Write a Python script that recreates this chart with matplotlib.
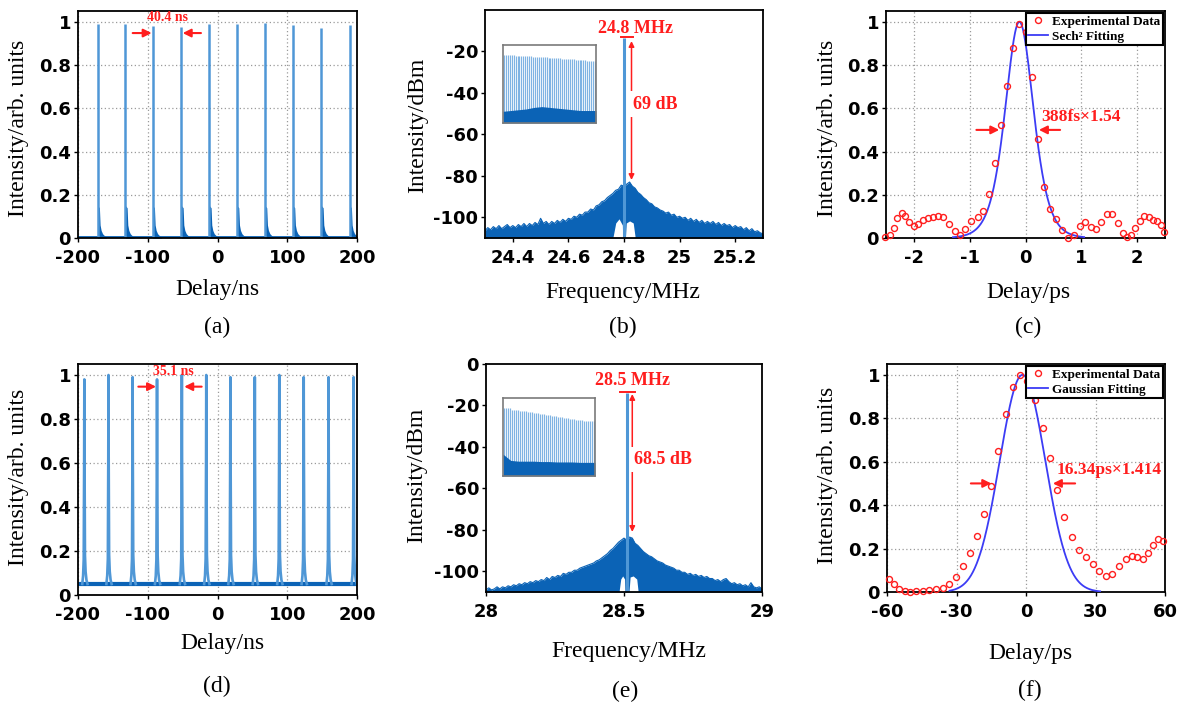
import numpy as np
import matplotlib
matplotlib.use("Agg")
import matplotlib.pyplot as plt
from matplotlib.lines import Line2D

plt.rcParams['axes.unicode_minus'] = False

# ---------------- data ----------------
# (a) pulse train, 40.4 ns spacing
pulse_a_t = [-171.8, -132.1, -92.9, -51.8, -11.7, 28.0, 68.1, 108.2, 148.9, 189.5]
pulse_a_h = [0.99, 0.99, 0.98, 0.975, 0.99, 0.99, 0.995, 0.985, 0.97, 0.985]
tail_a_dt = [0.0, 2.5, 3.5, 5.0, 7.0, 10.0, 13.0]
tail_a_amp = [0.15, 0.14, 0.06, 0.035, 0.02, 0.01, 0.0]

# (d) pulse train, 35.1 ns spacing
pulse_d_t = [-190.9, -156.3, -121.7, -86.7, -51.1, -16.1, 18.5, 53.5, 88.6, 123.6, 159.2, 195.2]
pulse_d_h = [0.98, 1.0, 0.99, 0.98, 1.0, 1.0, 0.99, 0.99, 1.0, 0.99, 0.99, 0.99]
baseline_d = 0.05
profile_d_dt = [-3.0, -1.8, -0.9, -0.3, 0.0, 0.3, 0.9, 1.8, 3.0, 4.5]
profile_d_rel = [0.0, 0.04, 0.12, 0.6, 1.0, 0.6, 0.14, 0.06, 0.02, 0.0]

# (b) RF spectrum around 24.8 MHz (0.01 MHz steps from 24.30)
spec_b_f0, spec_b_df = 24.30, 0.01
spec_b_db = [-106.5, -105.0, -106.0, -104.5, -105.5, -104.0, -105.5, -104.5, -103.5, -105.0,
             -104.0, -105.0, -103.5, -104.5, -103.0, -104.5, -103.0, -104.0, -102.5, -103.5,
             -100.5, -103.0, -102.0, -103.5, -102.0, -103.0, -101.5, -102.5, -101.0, -102.0,
             -100.5, -101.0, -99.5, -100.0, -98.5, -99.0, -97.5, -97.5, -96.0, -96.5,
             -94.5, -94.0, -92.5, -92.0, -90.5, -89.5, -88.5, -87.0, -86.5, -84.5,
             -85.0, -84.0, -83.0, -85.0, -86.0, -88.0, -89.0, -90.5, -91.5, -93.0,
             -93.5, -95.0, -95.5, -96.5, -97.0, -98.0, -97.5, -99.0, -98.5, -100.0,
             -99.5, -100.5, -100.0, -101.5, -100.5, -102.0, -101.0, -102.5, -101.5, -103.0,
             -102.0, -103.0, -102.0, -103.5, -102.5, -104.0, -103.0, -104.0, -103.5, -105.0,
             -104.0, -105.0, -104.5, -106.0, -105.0, -106.5, -105.5, -107.0, -106.5, -107.5, -108.0]
peak_b_f = 24.8
peak_b_db = -13.6
notch_b_left_f = [24.762, 24.772, 24.784, 24.796, 24.797]
notch_b_left_db = [-110, -103, -101, -104, -110]
notch_b_right_f = [24.807, 24.81, 24.822, 24.835, 24.842]
notch_b_right_db = [-110, -103, -102, -103, -110]

# (e) RF spectrum around 28.5 MHz (0.01 MHz steps from 28.00)
spec_e_f0, spec_e_df = 28.00, 0.01
spec_e_db = [-109.0, -108.0, -109.0, -108.5, -107.5, -108.5, -107.5, -108.0, -107.0, -107.5,
             -106.5, -107.0, -106.0, -106.5, -105.5, -106.0, -105.0, -105.5, -104.5, -105.0,
             -104.0, -104.5, -103.0, -104.0, -102.5, -103.0, -102.0, -102.5, -101.0, -101.5,
             -100.5, -100.5, -99.5, -99.5, -98.5, -98.0, -97.5, -97.0, -96.5, -96.0,
             -95.0, -94.5, -93.5, -92.5, -91.5, -90.0, -89.0, -87.5, -86.0, -85.0,
             -84.0, -85.0, -83.5, -84.0, -86.5, -87.5, -89.0, -90.5, -91.5, -92.5,
             -93.0, -94.0, -95.0, -95.5, -96.0, -97.0, -97.5, -98.0, -98.5, -99.5,
             -99.5, -100.5, -100.5, -101.5, -101.0, -102.0, -101.5, -102.5, -102.0, -103.0,
             -102.5, -103.5, -103.5, -104.5, -104.0, -105.0, -104.0, -103.5, -105.0, -106.0,
             -105.5, -106.5, -106.0, -107.0, -106.5, -107.5, -105.5, -107.5, -108.0, -107.5, -108.5]
peak_e_f = 28.512
peak_e_db = -14.1
notch_e_left_f = [28.484, 28.49, 28.497, 28.504, 28.505]
notch_e_left_db = [-110, -104, -102.5, -104, -110]
notch_e_right_f = [28.52, 28.524, 28.535, 28.548, 28.553]
notch_e_right_db = [-110, -103, -102.5, -104, -110]

# insets (comb of harmonics), normalised inset units
inset_b_top = [0.872, 0.870, 0.871, 0.868, 0.866, 0.867, 0.864, 0.862, 0.862, 0.860,
               0.858, 0.858, 0.855, 0.854, 0.853, 0.851, 0.849, 0.849, 0.846, 0.845,
               0.844, 0.842, 0.840, 0.839, 0.837, 0.835, 0.834, 0.832, 0.830, 0.829,
               0.826, 0.825, 0.823, 0.822, 0.819, 0.817, 0.816, 0.813, 0.811, 0.810,
               0.806, 0.804, 0.802, 0.798, 0.796, 0.794, 0.793, 0.792]
inset_b_floor = [0.15, 0.16, 0.17, 0.18, 0.20, 0.21, 0.20, 0.19, 0.18, 0.17, 0.16, 0.16, 0.16]
inset_e_top = [0.870, 0.870, 0.868, 0.866, 0.850, 0.848, 0.845, 0.842, 0.838, 0.835,
               0.831, 0.828, 0.824, 0.820, 0.817, 0.812, 0.808, 0.804, 0.800, 0.796,
               0.791, 0.787, 0.782, 0.778, 0.774, 0.770, 0.765, 0.761, 0.757, 0.752,
               0.748, 0.744, 0.740, 0.736, 0.732, 0.728, 0.724, 0.720, 0.716, 0.712,
               0.708, 0.705, 0.702, 0.701, 0.700, 0.700]
inset_e_floor = [0.28, 0.20, 0.19, 0.19, 0.19, 0.185, 0.185, 0.18, 0.18, 0.18, 0.175, 0.175, 0.175]

# (c) autocorrelation, sech^2 fit
ac_c_t = [-2.51, -2.42, -2.36, -2.30, -2.22, -2.16, -2.08, -2.00, -1.93, -1.84, -1.75, -1.66,
          -1.57, -1.48, -1.37, -1.27, -1.18, -1.08, -0.98, -0.86, -0.76, -0.65, -0.54, -0.44,
          -0.33, -0.22, -0.11, 0.01, 0.12, 0.23, 0.33, 0.44, 0.55, 0.66, 0.77, 0.87, 0.98,
          1.07, 1.18, 1.27, 1.36, 1.46, 1.55, 1.65, 1.74, 1.82, 1.89, 1.97, 2.05, 2.13,
          2.21, 2.29, 2.35, 2.42, 2.49]
ac_c_y = [0.005, 0.012, 0.046, 0.092, 0.115, 0.10, 0.072, 0.057, 0.065, 0.082, 0.092, 0.097,
          0.103, 0.097, 0.066, 0.031, 0.015, 0.042, 0.077, 0.095, 0.123, 0.203, 0.346, 0.521,
          0.703, 0.877, 0.992, 0.954, 0.743, 0.457, 0.235, 0.134, 0.088, 0.038, 0.0, 0.015,
          0.057, 0.074, 0.049, 0.042, 0.074, 0.112, 0.112, 0.069, 0.023, 0.005, 0.015, 0.046,
          0.08, 0.10, 0.097, 0.082, 0.08, 0.062, 0.026]
fit_c_center = -0.11
fit_c_fwhm = 0.388 * 1.54
fit_c_range = (-1.3, 1.05)

# (f) autocorrelation, Gaussian fit
ac_f_t = [-59.3, -56.8, -54.7, -52.4, -50.0, -47.4, -44.6, -41.8, -38.7, -36.0, -33.1, -30.3,
          -27.3, -24.1, -21.2, -18.0, -14.9, -11.9, -8.7, -5.7, -2.5, 0.6, 3.9, 7.2, 10.4,
          13.4, 16.6, 19.8, 22.8, 25.8, 28.8, 31.7, 34.6, 37.3, 40.2, 43.0, 45.6, 48.1, 50.6,
          52.8, 54.9, 57.1, 59.3]
ac_f_y = [0.062, 0.038, 0.015, 0.005, 0.002, 0.003, 0.005, 0.008, 0.012, 0.02, 0.038, 0.069,
          0.118, 0.18, 0.257, 0.357, 0.488, 0.651, 0.818, 0.946, 1.0, 0.974, 0.885, 0.757, 0.615,
          0.472, 0.346, 0.251, 0.195, 0.162, 0.131, 0.095, 0.072, 0.082, 0.118, 0.154, 0.166,
          0.162, 0.154, 0.18, 0.215, 0.242, 0.235]
fit_f_center = -1.5
fit_f_fwhm = 16.34 * 1.414
fit_f_range = (-33.0, 32.0)

# ---------------- style ----------------
W, H = 1179, 702
fig = plt.figure(figsize=(W / 100, H / 100), dpi=100)
fig.patch.set_facecolor('white')

LIGHT = '#4f97d6'
DARK = '#0b63b6'
COMB = '#7fb3e3'
RED = '#ff1e1e'
FITBLUE = '#3c3cf5'
SERIF = 'Liberation Serif'
SANS = 'DejaVu Sans'
GRIDC = '#9a9a9a'


def add_ax(l, t, r, b):
    return fig.add_axes([l / W, 1 - b / H, (r - l) / W, (b - t) / H])


def ftext(x, y, s, rot=0, size=17):
    fig.text(x / W, 1 - y / H, s, ha='center', va='center', rotation=rot,
             family=SERIF, fontsize=size)


def style(ax, xt, xl, yt, yl, grid):
    ax.set_xticks(xt)
    ax.set_xticklabels(xl, fontfamily=SANS, fontweight='bold', fontsize=13)
    ax.set_yticks(yt)
    ax.set_yticklabels(yl, fontfamily=SANS, fontweight='bold', fontsize=13)
    for s in ax.spines.values():
        s.set_linewidth(1.3)
        s.set_color('black')
    ax.tick_params(direction='out', length=3, width=1)
    ax.tick_params(axis='x', pad=5)
    ax.tick_params(axis='y', pad=2)
    ax.set_axisbelow(True)
    if grid:
        ax.grid(True, linestyle=(0, (1, 2)), color=GRIDC, linewidth=0.9)


def red_arrow(ax, start, end, ms=12, lw=1.5):
    ax.annotate('', xy=end, xytext=start,
                arrowprops=dict(arrowstyle='-|>', color=RED, lw=lw,
                                mutation_scale=ms, shrinkA=0, shrinkB=0))


def spectrum(ax, f0, df, vals, lf, ldb, rf, rdb, pf, pdb):
    fr = f0 + df * np.arange(len(vals))
    ax.fill_between(fr, -110, vals, color=DARK, lw=0)
    ax.plot(fr, vals, color=DARK, lw=0.8)
    ax.fill(lf, ldb, color='white', lw=0)
    ax.fill(rf, rdb, color='white', lw=0)
    ax.vlines(pf, -110, pdb, color=LIGHT, lw=2.2)


def inset(l, t, r, b, tops, floor):
    ins = add_ax(l, t, r, b)
    ins.set_xlim(0, 1)
    ins.set_ylim(0, 1)
    cx = np.linspace(0.01, 0.99, len(tops))
    ins.vlines(cx, 0, tops, color=COMB, lw=0.85, zorder=1)
    ins.fill_between(np.linspace(0, 1, len(floor)), 0, floor, color=DARK, lw=0, zorder=2)
    ins.set_xticks([])
    ins.set_yticks([])
    for s in ins.spines.values():
        s.set_color('#7a7a7a')
        s.set_linewidth(1.2)


def legend(ax, label2):
    h1 = Line2D([], [], marker='o', ls='none', mfc='none', mec=RED, ms=4.3, mew=1.0)
    h2 = Line2D([], [], color=FITBLUE, lw=1.3)
    leg = ax.legend([h1, h2], ['Experimental Data', label2], loc='upper right',
                    prop=dict(family=SERIF, weight='bold', size=9.5), frameon=True,
                    fancybox=False, edgecolor='black', framealpha=1, borderaxespad=0.15,
                    borderpad=0.2, handlelength=1.5, handletextpad=0.3, labelspacing=0.2,
                    numpoints=1)
    leg.get_frame().set_linewidth(1.5)


ticks01 = [0, 0.2, 0.4, 0.6, 0.8, 1.0]
labels01 = ['0', '0.2', '0.4', '0.6', '0.8', '1']
tdelay = [-200, -100, 0, 100, 200]
ldelay = ['-200', '-100', '0', '100', '200']

# ---------------- (a) ----------------
ax = add_ax(78, 11, 357, 238)
ax.set_xlim(-200, 200)
ax.set_ylim(0, 1.05)
ax.plot([-200, 200], [0.003, 0.003], color=DARK, lw=1.3)
for t, h in zip(pulse_a_t, pulse_a_h):
    xs = [t + d for d in tail_a_dt]
    ax.fill_between(xs, 0, tail_a_amp, color=DARK, lw=0)
    ax.vlines(t, 0, h, color=LIGHT, lw=1.8)
style(ax, tdelay, ldelay, ticks01, labels01, True)
red_arrow(ax, (-121.6, 0.948), (-94.4, 0.948))
red_arrow(ax, (-23.7, 0.948), (-49.9, 0.948))
ax.text(-72.4, 1.018, '40.4 ns', color=RED, fontsize=10, fontweight='bold',
        family=SERIF, ha='center', va='center')
ftext(19, 128, 'Intensity/arb. units', rot=90)
ftext(217, 290, 'Delay/ns')
ftext(217, 327, '(a)')

# ---------------- (b) ----------------
ax = add_ax(485, 10, 763, 238)
ax.set_xlim(24.3, 25.3)
ax.set_ylim(-110, 0)
spectrum(ax, spec_b_f0, spec_b_df, spec_b_db, notch_b_left_f, notch_b_left_db,
         notch_b_right_f, notch_b_right_db, peak_b_f, peak_b_db)
style(ax, [24.4, 24.6, 24.8, 25.0, 25.2], ['24.4', '24.6', '24.8', '25', '25.2'],
      [-100, -80, -60, -40, -20], ['-100', '-80', '-60', '-40', '-20'], False)
ax.plot([24.788, 24.831], [-13.1, -13.1], color=RED, lw=1.4)
ax.annotate('', xy=(24.827, -82), xytext=(24.827, -15),
            arrowprops=dict(arrowstyle='<|-|>', color=RED, lw=1.1,
                            mutation_scale=8, shrinkA=0, shrinkB=0))
ax.text(24.834, -45.4, '69 dB', color=RED, fontsize=13, fontweight='bold',
        family=SERIF, ha='left', va='center',
        bbox=dict(facecolor='white', edgecolor='none', pad=3), zorder=5)
ax.text(24.84, -9.0, '24.8 MHz', color=RED, fontsize=13, fontweight='bold',
        family=SERIF, ha='center', va='center')
inset(503, 45, 596, 123, inset_b_top, inset_b_floor)
ftext(418, 125, 'Intensity/dBm', rot=90)
ftext(623, 293, 'Frequency/MHz')
ftext(623, 327, '(b)')

# ---------------- (c) ----------------
ax = add_ax(886, 11, 1165, 238)
ax.set_xlim(-2.5, 2.5)
ax.set_ylim(0, 1.05)
tc = np.linspace(fit_c_range[0], fit_c_range[1], 400)
fit_c = 1.0 / np.cosh(1.7627 * (tc - fit_c_center) / fit_c_fwhm) ** 2
ax.plot(tc, fit_c, color=FITBLUE, lw=1.3, zorder=3)
ax.plot(ac_c_t, ac_c_y, 'o', mfc='none', mec=RED, ms=4.3, mew=1.0, zorder=4, clip_on=False)
style(ax, [-2, -1, 0, 1, 2], ['-2', '-1', '0', '1', '2'], ticks01, labels01, True)
red_arrow(ax, (-0.88, 0.5), (-0.47, 0.5))
red_arrow(ax, (0.62, 0.5), (0.24, 0.5))
ax.text(0.29, 0.558, '388fs×1.54', color=RED, fontsize=12.5, fontweight='bold',
        family=SERIF, ha='left', va='center')
legend(ax, 'Sech² Fitting')
ftext(827, 128, 'Intensity/arb. units', rot=90)
ftext(1028, 293, 'Delay/ps')
ftext(1028, 327, '(c)')

# ---------------- (d) ----------------
ax = add_ax(78, 364, 357, 595)
ax.set_xlim(-200, 200)
ax.set_ylim(0, 1.05)
ax.plot([-200, 200], [baseline_d, baseline_d], color=DARK, lw=3.0)
for t, h in zip(pulse_d_t, pulse_d_h):
    xs = [t + d for d in profile_d_dt]
    ys = [baseline_d + r * (h - baseline_d) for r in profile_d_rel]
    ax.plot(xs, ys, color=LIGHT, lw=1.9)
style(ax, tdelay, ldelay, ticks01, labels01, True)
red_arrow(ax, (-113.5, 0.947), (-88.1, 0.947))
red_arrow(ax, (-22.7, 0.947), (-47.7, 0.947))
ax.text(-63.8, 1.015, '35.1 ns', color=RED, fontsize=10, fontweight='bold',
        family=SERIF, ha='center', va='center')
ftext(19, 477, 'Intensity/arb. units', rot=90)
ftext(222, 643, 'Delay/ns')
ftext(217, 686, '(d)')

# ---------------- (e) ----------------
ax = add_ax(486, 364, 762, 592)
ax.set_xlim(28, 29)
ax.set_ylim(-110, 0)
spectrum(ax, spec_e_f0, spec_e_df, spec_e_db, notch_e_left_f, notch_e_left_db,
         notch_e_right_f, notch_e_right_db, peak_e_f, peak_e_db)
style(ax, [28, 28.5, 29], ['28', '28.5', '29'],
      [-100, -80, -60, -40, -20, 0], ['-100', '-80', '-60', '-40', '-20', '0'], False)
ax.plot([28.486, 28.54], [-13.3, -13.3], color=RED, lw=1.4)
ax.annotate('', xy=(28.53, -81), xytext=(28.53, -14.5),
            arrowprops=dict(arrowstyle='<|-|>', color=RED, lw=1.1,
                            mutation_scale=8, shrinkA=0, shrinkB=0))
ax.text(28.537, -46, '68.5 dB', color=RED, fontsize=13, fontweight='bold',
        family=SERIF, ha='left', va='center',
        bbox=dict(facecolor='white', edgecolor='none', pad=3), zorder=5)
ax.text(28.53, -8.0, '28.5 MHz', color=RED, fontsize=13, fontweight='bold',
        family=SERIF, ha='center', va='center')
inset(503, 398, 595, 476, inset_e_top, inset_e_floor)
ftext(417, 475, 'Intensity/dBm', rot=90)
ftext(629, 652, 'Frequency/MHz')
ftext(625, 691, '(e)')

# ---------------- (f) ----------------
ax = add_ax(887, 364, 1165, 592)
ax.set_xlim(-60, 60)
ax.set_ylim(0, 1.05)
tf = np.linspace(fit_f_range[0], fit_f_range[1], 400)
fit_f = np.exp(-4 * np.log(2) * (tf - fit_f_center) ** 2 / fit_f_fwhm ** 2)
ax.plot(tf, fit_f, color=FITBLUE, lw=1.3, zorder=3)
ax.plot(ac_f_t, ac_f_y, 'o', mfc='none', mec=RED, ms=4.3, mew=1.0, zorder=4, clip_on=False)
style(ax, [-60, -30, 0, 30, 60], ['-60', '-30', '0', '30', '60'], ticks01, labels01, True)
red_arrow(ax, (-23.8, 0.5), (-15.0, 0.5))
red_arrow(ax, (21.2, 0.5), (11.6, 0.5))
ax.text(13.0, 0.56, '16.34ps×1.414', color=RED, fontsize=12.5, fontweight='bold',
        family=SERIF, ha='left', va='center')
legend(ax, 'Gaussian Fitting')
ftext(827, 475, 'Intensity/arb. units', rot=90)
ftext(1030, 653, 'Delay/ps')
ftext(1030, 690, '(f)')

fig.savefig('out.png', dpi=100, facecolor='white')
